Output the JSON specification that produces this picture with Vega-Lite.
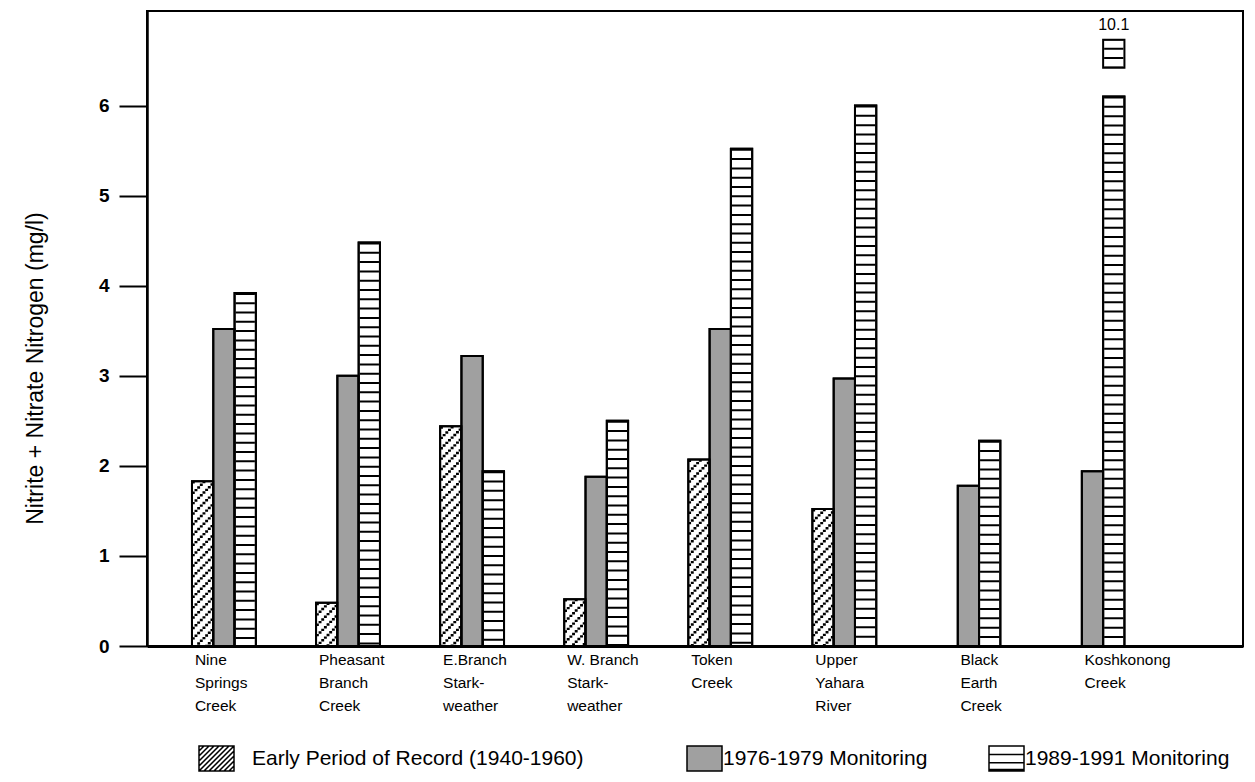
{
  "$schema": "https://vega.github.io/schema/vega-lite/v6.json",
  "width": 1096,
  "height": 635,
  "autosize": {"type": "none"},
  "padding": {"left": 147, "top": 11, "right": 12, "bottom": 136},
  "background": "white",
  "config": {"view": {"stroke": "black", "strokeWidth": 2}, "font": "Liberation Sans"},
  "data": {"values": [
    {"site": "Nine\nSprings\nCreek", "series": "Early Period of Record (1940-1960)", "value": 1.83},
    {"site": "Nine\nSprings\nCreek", "series": "1976-1979 Monitoring", "value": 3.52},
    {"site": "Nine\nSprings\nCreek", "series": "1989-1991 Monitoring", "value": 3.92},
    {"site": "Pheasant\nBranch\nCreek", "series": "Early Period of Record (1940-1960)", "value": 0.48},
    {"site": "Pheasant\nBranch\nCreek", "series": "1976-1979 Monitoring", "value": 3.0},
    {"site": "Pheasant\nBranch\nCreek", "series": "1989-1991 Monitoring", "value": 4.48},
    {"site": "E.Branch\nStark-\nweather", "series": "Early Period of Record (1940-1960)", "value": 2.44},
    {"site": "E.Branch\nStark-\nweather", "series": "1976-1979 Monitoring", "value": 3.22},
    {"site": "E.Branch\nStark-\nweather", "series": "1989-1991 Monitoring", "value": 1.94},
    {"site": "W. Branch\nStark-\n weather", "series": "Early Period of Record (1940-1960)", "value": 0.52},
    {"site": "W. Branch\nStark-\n weather", "series": "1976-1979 Monitoring", "value": 1.88},
    {"site": "W. Branch\nStark-\n weather", "series": "1989-1991 Monitoring", "value": 2.5},
    {"site": "Token\nCreek", "series": "Early Period of Record (1940-1960)", "value": 2.07},
    {"site": "Token\nCreek", "series": "1976-1979 Monitoring", "value": 3.52},
    {"site": "Token\nCreek", "series": "1989-1991 Monitoring", "value": 5.52},
    {"site": "Upper\nYahara\nRiver", "series": "Early Period of Record (1940-1960)", "value": 1.52},
    {"site": "Upper\nYahara\nRiver", "series": "1976-1979 Monitoring", "value": 2.97},
    {"site": "Upper\nYahara\nRiver", "series": "1989-1991 Monitoring", "value": 6.0},
    {"site": "Black\nEarth\nCreek", "series": "1976-1979 Monitoring", "value": 1.78},
    {"site": "Black\nEarth\nCreek", "series": "1989-1991 Monitoring", "value": 2.28},
    {"site": "Koshkonong\nCreek", "series": "1976-1979 Monitoring", "value": 1.94},
    {"site": "Koshkonong\nCreek", "series": "1989-1991 Monitoring", "value": 6.1, "actual": 10.1}
  ]},
  "layer": [
    {
      "mark": {"type": "bar", "stroke": "black", "strokeWidth": 2},
      "encoding": {
        "x": {"field": "site", "type": "nominal", "sort": null,
          "scale": {"paddingInner": 0.485, "paddingOuter": 0.659, "align": 0.275},
          "axis": {"title": null, "ticks": false, "domainColor": "black", "domainWidth": 3,
            "labelAngle": 0, "labelAlign": "left", "labelBaseline": "top",
            "labelOffset": {"condition": {"test": "indexof(datum.value, 'Black') === 0 || indexof(datum.value, 'Koshkonong') === 0", "value": -8}, "value": -29},
            "labelPadding": 6, "labelFontSize": 15.5, "labelLineHeight": 23, "labelColor": "black",
            "labelFont": "Liberation Sans", "labelOverlap": false, "labelLimit": 0,
            "labelExpr": "split(datum.label, '\\n')"}},
        "xOffset": {"field": "series", "type": "nominal",
          "scale": {"domain": ["Early Period of Record (1940-1960)", "1976-1979 Monitoring", "1989-1991 Monitoring"], "paddingInner": 0, "paddingOuter": 0}},
        "y": {"field": "value", "type": "quantitative",
          "scale": {"domain": [0, 7.05], "nice": false},
          "axis": {"title": "Nitrite + Nitrate  Nitrogen (mg/l)", "values": [0, 1, 2, 3, 4, 5, 6], "format": "d", "grid": false,
            "domainColor": "black", "domainWidth": 2.5, "tickColor": "black", "tickWidth": 2, "tickSize": 28,
            "labelFont": "Liberation Sans", "labelFontSize": 19, "labelFontWeight": "bold", "labelColor": "black", "labelPadding": 10,
            "titleFont": "Liberation Sans", "titleFontSize": 23, "titleFontWeight": "normal", "titleColor": "black",
            "titleX": -112, "titleY": 357, "titleBaseline": "middle", "titleAngle": 270}},
        "fill": {"field": "series", "type": "nominal",
          "scale": {"domain": ["Early Period of Record (1940-1960)", "1976-1979 Monitoring", "1989-1991 Monitoring"], "range": ["#ffffff", "#a0a0a0", "#ffffff"]},
          "legend": {"title": null, "orient": "none", "legendX": 51, "legendY": 734, "direction": "horizontal",
            "symbolSize": 625, "labelOffset": 12, "columnPadding": 58, "labelFontSize": 21, "labelFont": "Liberation Sans",
            "labelColor": "black", "labelLimit": 0, "symbolStrokeWidth": 1.5, "symbolStrokeColor": "black",
            "encode": {
              "symbols": {"update": {
                "shape": {"signal": "indexof(datum.value, 'Early') === 0 ? 'M-1,-1H1.8V1H-1Z M-1,-0.6L-0.6,-1 M-1,-0.2L-0.2,-1 M-1,0.2L0.2,-1 M-1,0.6L0.6,-1 M-1,1L1,-1 M-0.6,1L1.4,-1 M-0.2,1L1.8,-1 M0.2,1L1.8,-0.6 M0.6,1L1.8,-0.2 M1,1L1.8,0.2 M1.4,1L1.8,0.6' : indexof(datum.value, '1976') === 0 ? 'M2.52,-1H5.32V1H2.52Z' : 'M-1,-1H1.8V1H-1Z M-1,-0.33H1.8 M-1,0.33H1.8 M-1,0.88H1.8'"},
                "stroke": {"value": "black"},
                "strokeWidth": {"value": 1.5}}},
              "labels": {"update": {
                "dx": {"signal": "indexof(datum.value, 'Early') === 0 ? 15 : indexof(datum.value, '1976') === 0 ? 42 : -2"}}}}}}
      }
    },
    {
      "transform": [{"filter": "datum.series === 'Early Period of Record (1940-1960)'"}],
      "mark": {"type": "rule", "color": "black", "strokeWidth": 2.9, "strokeDash": [2.4, 8], "strokeDashOffset": 0, "strokeCap": "butt"},
      "encoding": {"x": {"field": "site", "type": "nominal", "sort": null, "bandPosition": 0.02083},
        "y": {"field": "value", "type": "quantitative"}, "y2": {"datum": 0}}
    },
    {
      "transform": [{"filter": "datum.series === 'Early Period of Record (1940-1960)'"}],
      "mark": {"type": "rule", "color": "black", "strokeWidth": 2.9, "strokeDash": [2.4, 8], "strokeDashOffset": 2.66, "strokeCap": "butt"},
      "encoding": {"x": {"field": "site", "type": "nominal", "sort": null, "bandPosition": 0.0625},
        "y": {"field": "value", "type": "quantitative"}, "y2": {"datum": 0}}
    },
    {
      "transform": [{"filter": "datum.series === 'Early Period of Record (1940-1960)'"}],
      "mark": {"type": "rule", "color": "black", "strokeWidth": 2.9, "strokeDash": [2.4, 8], "strokeDashOffset": 5.32, "strokeCap": "butt"},
      "encoding": {"x": {"field": "site", "type": "nominal", "sort": null, "bandPosition": 0.10417},
        "y": {"field": "value", "type": "quantitative"}, "y2": {"datum": 0}}
    },
    {
      "transform": [{"filter": "datum.series === 'Early Period of Record (1940-1960)'"}],
      "mark": {"type": "rule", "color": "black", "strokeWidth": 2.9, "strokeDash": [2.4, 8], "strokeDashOffset": 7.98, "strokeCap": "butt"},
      "encoding": {"x": {"field": "site", "type": "nominal", "sort": null, "bandPosition": 0.14583},
        "y": {"field": "value", "type": "quantitative"}, "y2": {"datum": 0}}
    },
    {
      "transform": [{"filter": "datum.series === 'Early Period of Record (1940-1960)'"}],
      "mark": {"type": "rule", "color": "black", "strokeWidth": 2.9, "strokeDash": [2.4, 8], "strokeDashOffset": 10.64, "strokeCap": "butt"},
      "encoding": {"x": {"field": "site", "type": "nominal", "sort": null, "bandPosition": 0.1875},
        "y": {"field": "value", "type": "quantitative"}, "y2": {"datum": 0}}
    },
    {
      "transform": [{"filter": "datum.series === 'Early Period of Record (1940-1960)'"}],
      "mark": {"type": "rule", "color": "black", "strokeWidth": 2.9, "strokeDash": [2.4, 8], "strokeDashOffset": 13.3, "strokeCap": "butt"},
      "encoding": {"x": {"field": "site", "type": "nominal", "sort": null, "bandPosition": 0.22917},
        "y": {"field": "value", "type": "quantitative"}, "y2": {"datum": 0}}
    },
    {
      "transform": [{"filter": "datum.series === 'Early Period of Record (1940-1960)'"}],
      "mark": {"type": "rule", "color": "black", "strokeWidth": 2.9, "strokeDash": [2.4, 8], "strokeDashOffset": 15.96, "strokeCap": "butt"},
      "encoding": {"x": {"field": "site", "type": "nominal", "sort": null, "bandPosition": 0.27083},
        "y": {"field": "value", "type": "quantitative"}, "y2": {"datum": 0}}
    },
    {
      "transform": [{"filter": "datum.series === 'Early Period of Record (1940-1960)'"}],
      "mark": {"type": "rule", "color": "black", "strokeWidth": 2.9, "strokeDash": [2.4, 8], "strokeDashOffset": 18.62, "strokeCap": "butt"},
      "encoding": {"x": {"field": "site", "type": "nominal", "sort": null, "bandPosition": 0.3125},
        "y": {"field": "value", "type": "quantitative"}, "y2": {"datum": 0}}
    },
    {
      "transform": [{"filter": "datum.series === '1989-1991 Monitoring'"}],
      "mark": {"type": "rule", "color": "black", "strokeWidth": 19.3, "strokeDash": [2, 7.3], "strokeCap": "butt"},
      "encoding": {"x": {"field": "site", "type": "nominal", "sort": null, "bandPosition": 0.8333},
        "y": {"field": "value", "type": "quantitative"}, "y2": {"datum": 0}}
    },
    {
      "mark": {"type": "bar", "fill": "white", "fillOpacity": 0, "stroke": "black", "strokeWidth": 2},
      "encoding": {
        "x": {"field": "site", "type": "nominal", "sort": null},
        "xOffset": {"field": "series", "type": "nominal"},
        "y": {"field": "value", "type": "quantitative"}
      }
    },
    {
      "transform": [{"filter": {"field": "actual", "valid": true}}],
      "mark": {"type": "bar", "fill": "white", "stroke": "black", "strokeWidth": 2},
      "encoding": {
        "x": {"field": "site", "type": "nominal", "sort": null},
        "xOffset": {"field": "series", "type": "nominal"},
        "y": {"datum": 6.73}, "y2": {"datum": 6.42}
      }
    },
    {
      "transform": [{"filter": {"field": "actual", "valid": true}}],
      "mark": {"type": "rule", "color": "black", "strokeWidth": 19.3, "strokeDash": [2, 7.3], "strokeDashOffset": -8, "strokeCap": "butt"},
      "encoding": {"x": {"field": "site", "type": "nominal", "sort": null, "bandPosition": 0.8333},
        "y": {"datum": 6.73}, "y2": {"datum": 6.42}}
    },
    {
      "transform": [{"filter": {"field": "actual", "valid": true}}],
      "mark": {"type": "text", "fontSize": 16, "font": "Liberation Sans", "color": "black", "baseline": "middle"},
      "encoding": {
        "x": {"field": "site", "type": "nominal", "sort": null},
        "xOffset": {"field": "series", "type": "nominal"},
        "y": {"datum": 6.9},
        "text": {"field": "actual", "type": "quantitative"}
      }
    }
  ]
}
